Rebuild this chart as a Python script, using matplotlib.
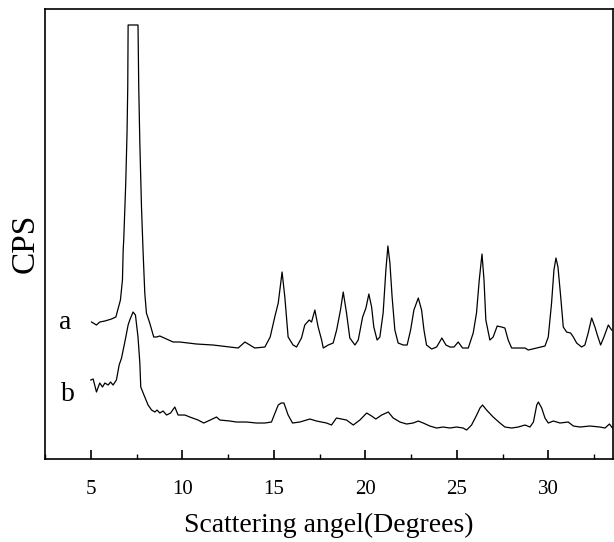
import matplotlib
matplotlib.use("Agg")
import matplotlib.pyplot as plt
from matplotlib.ticker import MultipleLocator

# XRD patterns, intensity in arbitrary units
angle_a = [5.04, 5.31, 5.49, 5.77, 6.13, 6.37, 6.62, 6.73, 6.77, 6.80, 6.91, 6.98,
           7.02, 7.04, 7.58, 7.62, 7.68, 7.77, 7.86, 7.95, 8.04, 8.22, 8.44, 8.59,
           8.77, 9.14, 9.50, 9.86, 10.78, 11.68, 12.60, 13.05, 13.42, 13.69, 13.96,
           14.51, 14.80, 15.05, 15.24, 15.45, 15.60, 15.78, 16.05, 16.24, 16.51,
           16.69, 16.93, 17.06, 17.24, 17.42, 17.61, 17.70, 17.97, 18.24, 18.43,
           18.64, 18.79, 18.97, 19.15, 19.43, 19.61, 19.85, 20.03, 20.19, 20.34,
           20.46, 20.64, 20.79, 20.97, 21.12, 21.23, 21.34, 21.46, 21.61, 21.79,
           22.07, 22.28, 22.47, 22.65, 22.89, 23.07, 23.20, 23.34, 23.62, 23.89,
           24.18, 24.40, 24.62, 24.84, 25.07, 25.31, 25.62, 25.89, 26.07, 26.22,
           26.37, 26.48, 26.58, 26.80, 26.98, 27.20, 27.44, 27.62, 27.80, 27.99,
           28.44, 28.72, 28.90, 29.36, 29.81, 29.99, 30.17, 30.30, 30.41, 30.52,
           30.67, 30.81, 30.99, 31.21, 31.36, 31.54, 31.81, 31.99, 32.17, 32.36,
           32.54, 32.67, 32.85, 33.03, 33.27, 33.45]
cps_a = [137, 134, 137, 138, 140, 142, 159, 179, 209, 219, 276, 326,
         372, 434, 434, 372, 316, 252, 206, 166, 146, 136, 122, 122,
         123, 120, 117, 117, 115, 114, 112, 111, 117, 114, 111,
         112, 122, 142, 156, 187, 162, 122, 114, 112, 121,
         134, 139, 137, 149, 132, 119, 111, 114, 116, 129,
         149, 167, 146, 121, 114, 119, 142, 151, 165, 152,
         132, 119, 122, 146, 189, 213, 196, 162, 129, 116,
         114, 114, 129, 149, 161, 149, 129, 114, 110, 112,
         121, 114, 112, 112, 117, 111, 111, 126, 146, 179,
         205, 179, 139, 119, 122, 133, 132, 131, 119, 111,
         111, 111, 109, 111, 113, 122, 156, 189, 201, 192,
         162, 132, 127, 126, 122, 116, 112, 114, 126, 141,
         132, 124, 114, 122, 134, 129]

angle_b = [5.00, 5.13, 5.31, 5.49, 5.64, 5.77, 5.95, 6.08, 6.22, 6.40, 6.55, 6.68,
           6.86, 7.04, 7.13, 7.31, 7.44, 7.58, 7.68, 7.73, 7.95, 8.13, 8.32, 8.50,
           8.62, 8.77, 8.95, 9.14, 9.36, 9.59, 9.77, 10.14, 10.41, 10.86, 11.17,
           11.41, 11.87, 12.05, 12.60, 12.96, 13.51, 14.05, 14.51, 14.87, 15.02,
           15.24, 15.40, 15.55, 15.78, 16.02, 16.42, 16.97, 17.33, 17.88, 18.15,
           18.42, 18.97, 19.34, 19.70, 20.07, 20.34, 20.57, 20.89, 21.25, 21.52,
           21.89, 22.25, 22.61, 22.89, 23.16, 23.52, 23.89, 24.25, 24.62, 24.98,
           25.34, 25.53, 25.80, 26.08, 26.26, 26.40, 26.62, 26.98, 27.35, 27.62,
           27.99, 28.35, 28.72, 28.99, 29.18, 29.36, 29.45, 29.63, 29.81, 29.99,
           30.27, 30.63, 31.08, 31.36, 31.72, 32.27, 32.81, 33.09, 33.33, 33.50]
cps_b = [79, 80, 67, 76, 72, 76, 74, 77, 74, 79, 94, 101,
         117, 134, 139, 147, 144, 122, 96, 72, 62, 54, 49, 47,
         49, 46, 48, 44, 46, 52, 44, 44, 42, 39, 36,
         38, 42, 39, 38, 37, 37, 36, 36, 37, 44,
         54, 56, 56, 44, 36, 37, 40, 38, 36, 34,
         41, 39, 34, 39, 46, 43, 40, 44, 47, 41,
         37, 35, 36, 38, 36, 33, 31, 32, 31, 32,
         31, 29, 34, 44, 51, 54, 49, 42, 36, 32,
         31, 32, 34, 32, 37, 54, 57, 51, 41, 36,
         38, 36, 37, 33, 32, 33, 32, 31, 35, 31]

xticks = [5, 10, 15, 20, 25, 30]

plt.rcParams["font.family"] = ["Liberation Serif", "DejaVu Serif"]

fig = plt.figure(figsize=(6.14, 5.42), dpi=100)
ax = fig.add_axes([0.0733, 0.1531, 0.9243, 0.8303])

ax.plot(angle_a, cps_a, color="black", lw=0.9)
ax.plot(angle_b, cps_b, color="black", lw=0.9)

ax.text(3.6, 137, "a", fontsize=20, ha="center", va="center")
ax.text(3.75, 65, "b", fontsize=20, ha="center", va="center")

ax.set_xlim(2.5, 33.5)
ax.set_ylim(0, 450)
ax.set_xticks(xticks)
ax.xaxis.set_minor_locator(MultipleLocator(2.5))
ax.set_yticks([])
ax.tick_params(axis="x", which="major", direction="in", length=6.5, width=1.2,
               labelsize=15, pad=15)
ax.tick_params(axis="x", which="minor", direction="in", length=3.3, width=1.0)
for sp in ax.spines.values():
    sp.set_linewidth(1.2)

ax.set_xlabel("Scattering angel(Degrees)", fontsize=20, labelpad=10)
ax.set_ylabel("CPS", fontsize=24)
ax.yaxis.set_label_coords(-0.008, 0.48)

fig.savefig("out.png", dpi=100)
